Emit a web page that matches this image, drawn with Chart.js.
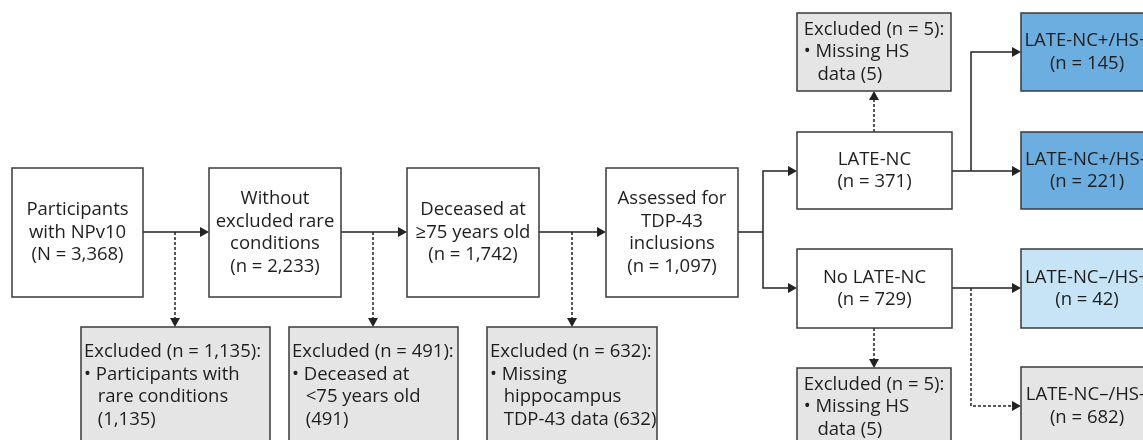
<!DOCTYPE html>
<html>
<head>
<meta charset="utf-8">
<script src="https://cdn.jsdelivr.net/npm/chart.js@4.4.1/dist/chart.umd.min.js"></script>
<style>
  html, body { margin: 0; padding: 0; background: #fff; overflow: hidden; }
</style>
</head>
<body>
<canvas id="flow" width="1143" height="440"></canvas>
<script>
// ---- data ----
const stageTitles = [
  ['Participants', 'with NPv10'],
  ['Without', 'excluded rare', 'conditions'],
  ['Deceased at', '≥75 years old'],
  ['Assessed for', 'TDP-43', 'inclusions']
];
const stageSymbols = ['N', 'n', 'n', 'n'];
const stageCounts = [3368, 2233, 1742, 1097];

const excludedCounts = [1135, 491, 632];
const excludedReasons = [
  ['Participants with', 'rare conditions', '({n})'],
  ['Deceased at', '<75 years old', '({n})'],
  ['Missing', 'hippocampus', 'TDP-43 data ({n})']
];

const groupTitles = ['LATE-NC', 'No LATE-NC'];
const groupCounts = [371, 729];
const groupExcludedCounts = [5, 5];
const groupExcludedReasons = [
  ['Missing HS', 'data ({n})'],
  ['Missing HS', 'data ({n})']
];

const subgroupTitles = ['LATE-NC+/HS+', 'LATE-NC+/HS–', 'LATE-NC–/HS+', 'LATE-NC–/HS–'];
const subgroupCounts = [145, 221, 42, 682];

// ---- layout (in chart units, 0..1143 x 0..440) ----
const stageBoxes = [[12, 168, 143, 297], [209, 168, 341, 297], [407, 168, 539, 297], [606, 168, 738, 297]];
const excludedBoxes = [[81, 327, 270, 444], [289, 327, 458, 444], [487, 327, 657, 444]];
const groupBoxes = [[797, 132, 952, 209], [797, 249, 952, 328]];
const groupExcludedBoxes = [[797, 13, 951, 91], [797, 368, 951, 446]];
const subgroupBoxes = [[1021, 13, 1153, 91], [1021, 132, 1153, 209], [1021, 249, 1153, 328], [1021, 367, 1153, 445]];
const subgroupFills = ['#6caee0', '#6caee0', '#c6e4f6', '#e5e5e5'];

const FONT = '18.5px "Open Sans"';
const LINE_H = 22.5;
const fmt = v => v.toLocaleString('en-US');

const nodes = [];
stageTitles.forEach((t, i) => nodes.push({
  box: stageBoxes[i], fill: '#ffffff', align: 'center',
  lines: t.concat(['(' + stageSymbols[i] + ' = ' + fmt(stageCounts[i]) + ')'])
}));
excludedCounts.forEach((c, i) => nodes.push({
  box: excludedBoxes[i], fill: '#e5e5e5', align: 'left',
  lines: ['Excluded (n = ' + fmt(c) + '):'].concat(excludedReasons[i].map(s => s.replace('{n}', fmt(c))))
}));
groupTitles.forEach((t, i) => nodes.push({
  box: groupBoxes[i], fill: '#ffffff', align: 'center',
  lines: [t, '(n = ' + fmt(groupCounts[i]) + ')']
}));
groupExcludedCounts.forEach((c, i) => nodes.push({
  box: groupExcludedBoxes[i], fill: '#e5e5e5', align: 'block',
  lines: ['Excluded (n = ' + fmt(c) + '):'].concat(groupExcludedReasons[i].map(s => s.replace('{n}', fmt(c))))
}));
subgroupTitles.forEach((t, i) => nodes.push({
  box: subgroupBoxes[i], fill: subgroupFills[i], align: 'center',
  lines: [t, '(n = ' + fmt(subgroupCounts[i]) + ')']
}));

// connectors: polylines, last point gets an arrowhead when arrow = true
const edges = [
  { pts: [[143, 232], [209, 232]], dash: false, arrow: true },
  { pts: [[341, 232], [407, 232]], dash: false, arrow: true },
  { pts: [[539, 232], [606, 232]], dash: false, arrow: true },
  { pts: [[175, 232], [175, 327]], dash: true, arrow: true },
  { pts: [[373, 232], [373, 327]], dash: true, arrow: true },
  { pts: [[572, 232], [572, 327]], dash: true, arrow: true },
  { pts: [[738, 232], [763, 232]], dash: false, arrow: false },
  { pts: [[763, 232], [763, 171], [797, 171]], dash: false, arrow: true },
  { pts: [[763, 232], [763, 288], [797, 288]], dash: false, arrow: true },
  { pts: [[874, 132], [874, 91]], dash: true, arrow: true },
  { pts: [[874, 328], [874, 368]], dash: true, arrow: true },
  { pts: [[952, 171], [1021, 171]], dash: false, arrow: true },
  { pts: [[971, 171], [971, 52], [1021, 52]], dash: false, arrow: true },
  { pts: [[952, 288], [1021, 288]], dash: false, arrow: true },
  { pts: [[971, 288], [971, 406], [1021, 406]], dash: true, arrow: true }
];

const flowPlugin = {
  id: 'flow',
  afterDraw(chart) {
    const ctx = chart.ctx;
    const xs = chart.scales.x, ys = chart.scales.y;
    const px = v => xs.getPixelForValue(v);
    const py = v => ys.getPixelForValue(v);
    ctx.save();

    // connectors
    ctx.strokeStyle = '#222';
    ctx.fillStyle = '#222';
    ctx.lineWidth = 1.5;
    edges.forEach(e => {
      const p = e.pts.map(q => [px(q[0]), py(q[1])]);
      const n = p.length;
      const end = p[n - 1];
      let dx = end[0] - p[n - 2][0], dy = end[1] - p[n - 2][1];
      const len = Math.hypot(dx, dy);
      dx /= len; dy /= len;
      const head = 9;
      ctx.setLineDash(e.dash ? [3, 2] : []);
      ctx.beginPath();
      ctx.moveTo(p[0][0], p[0][1]);
      for (let i = 1; i < n; i++) {
        if (i === n - 1 && e.arrow) ctx.lineTo(end[0] - dx * head, end[1] - dy * head);
        else ctx.lineTo(p[i][0], p[i][1]);
      }
      ctx.stroke();
      ctx.setLineDash([]);
      if (e.arrow) {
        ctx.beginPath();
        ctx.moveTo(end[0], end[1]);
        ctx.lineTo(end[0] - dx * head - dy * 5, end[1] - dy * head + dx * 5);
        ctx.lineTo(end[0] - dx * head + dy * 5, end[1] - dy * head - dx * 5);
        ctx.closePath();
        ctx.fill();
      }
    });

    // boxes
    ctx.font = FONT;
    ctx.textBaseline = 'middle';
    nodes.forEach(nd => {
      const x0 = px(nd.box[0]), y0 = py(nd.box[1]), x1 = px(nd.box[2]), y1 = py(nd.box[3]);
      ctx.fillStyle = nd.fill;
      ctx.fillRect(x0, y0, x1 - x0, y1 - y0);
      ctx.strokeStyle = '#3a3a3a';
      ctx.lineWidth = 1.5;
      ctx.strokeRect(x0, y0, x1 - x0, y1 - y0);
      ctx.fillStyle = '#1e1e1e';
      const cx = (x0 + x1) / 2, cy = (y0 + y1) / 2;
      const top = cy - (nd.lines.length - 1) * LINE_H / 2;
      if (nd.align === 'center') {
        ctx.textAlign = 'center';
        nd.lines.forEach((l, i) => ctx.fillText(l, cx, top + i * LINE_H));
      } else {
        // bullet list: first line heading, second line bulleted, rest hanging indent
        ctx.textAlign = 'left';
        const indent = ctx.measureText('• ').width + 2;
        const shown = nd.lines.map((l, i) => i === 1 ? '• ' + l : l);
        const widths = shown.map((l, i) => ctx.measureText(l).width + (i > 1 ? indent : 0));
        const left = nd.align === 'left' ? x0 + 3 : cx - Math.max(...widths) / 2;
        shown.forEach((l, i) => ctx.fillText(l, left + (i > 1 ? indent : 0), top + i * LINE_H));
      }
    });
    ctx.restore();
  }
};

const canvas = document.getElementById('flow');
new Chart(canvas, {
  type: 'scatter',
  data: { datasets: [{ data: [], pointRadius: 0 }] },
  options: {
    responsive: false,
    animation: false,
    layout: { padding: 0 },
    plugins: { legend: { display: false }, tooltip: { enabled: false } },
    scales: {
      x: { type: 'linear', min: 0, max: 1143, display: false },
      y: { type: 'linear', min: 0, max: 440, reverse: true, display: false }
    }
  },
  plugins: [flowPlugin]
});
</script>
</body>
</html>
